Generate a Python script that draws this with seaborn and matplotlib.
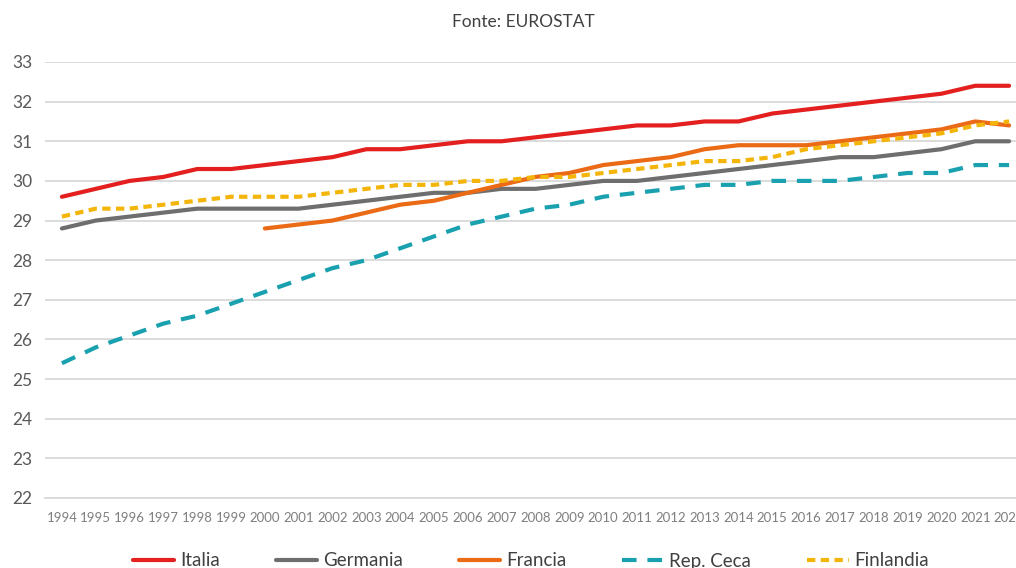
import pandas as pd
import numpy as np
import seaborn as sns
import matplotlib.pyplot as plt

years = list(range(1994, 2023))

italia = [29.6, 29.8, 30.0, 30.1, 30.3, 30.3, 30.4, 30.5, 30.6, 30.8,
          30.8, 30.9, 31.0, 31.0, 31.1, 31.2, 31.3, 31.4, 31.4, 31.5,
          31.5, 31.7, 31.8, 31.9, 32.0, 32.1, 32.2, 32.4, 32.4]
germania = [28.8, 29.0, 29.1, 29.2, 29.3, 29.3, 29.3, 29.3, 29.4, 29.5,
            29.6, 29.7, 29.7, 29.8, 29.8, 29.9, 30.0, 30.0, 30.1, 30.2,
            30.3, 30.4, 30.5, 30.6, 30.6, 30.7, 30.8, 31.0, 31.0]
francia = [None] * 6 + [28.8, 28.9, 29.0, 29.2, 29.4, 29.5, 29.7, 29.9,
                        30.1, 30.2, 30.4, 30.5, 30.6, 30.8, 30.9, 30.9,
                        30.9, 31.0, 31.1, 31.2, 31.3, 31.5, 31.4]
rep_ceca = [25.4, 25.8, 26.1, 26.4, 26.6, 26.9, 27.2, 27.5, 27.8, 28.0,
            28.3, 28.6, 28.9, 29.1, 29.3, 29.4, 29.6, 29.7, 29.8, 29.9,
            29.9, 30.0, 30.0, 30.0, 30.1, 30.2, 30.2, 30.4, 30.4]
finlandia = [29.1, 29.3, 29.3, 29.4, 29.5, 29.6, 29.6, 29.6, 29.7, 29.8,
             29.9, 29.9, 30.0, 30.0, 30.1, 30.1, 30.2, 30.3, 30.4, 30.5,
             30.5, 30.6, 30.8, 30.9, 31.0, 31.1, 31.2, 31.4, 31.5]

countries = ["Italia", "Germania", "Francia", "Rep. Ceca", "Finlandia"]
colors = ["#e3201f", "#6e6e6e", "#ea6a16", "#1aa1b0", "#f4b50a"]

wide = pd.DataFrame({
    "anno": years,
    "Italia": italia,
    "Germania": germania,
    "Francia": francia,
    "Rep. Ceca": rep_ceca,
    "Finlandia": finlandia,
})
df = wide.melt(id_vars="anno", var_name="paese", value_name="valore").dropna()

sns.set_style("white")
plt.rcParams["font.family"] = ["Lato", "DejaVu Sans"]

fig = plt.figure(figsize=(10.16, 5.68), dpi=100)
ax = fig.add_axes([45 / 1016, 1 - 498 / 568, 981 / 1016, 436 / 568])

sns.lineplot(
    data=df, x="anno", y="valore", hue="paese", style="paese",
    hue_order=countries, style_order=countries,
    palette=dict(zip(countries, colors)),
    dashes={"Italia": "", "Germania": "", "Francia": "",
            "Rep. Ceca": (3.5, 2.6), "Finlandia": (2.0, 1.3)},
    linewidth=3, ax=ax,
)

ax.set_xlim(1993.5, 2022.5)
ax.set_ylim(22, 33)
ax.set_yticks(range(22, 34))
ax.yaxis.grid(True, color="#d9d9d9", linewidth=1.3)
ax.set_axisbelow(True)
for s in ["top", "right", "left"]:
    ax.spines[s].set_visible(False)
ax.spines["bottom"].set_color("#d9d9d9")
ax.spines["bottom"].set_linewidth(1.3)

ax.set_xticks(years)
ax.set_xticklabels([str(y) for y in years], fontsize=9.5, color="#7f7f7f")
ax.set_xticks(np.arange(1993.5, 2023, 1), minor=True)
ax.tick_params(axis="x", which="major", length=0, pad=10)
ax.tick_params(axis="x", which="minor", length=19, width=1.0, color="#d9d9d9",
               direction="out")
ax.tick_params(axis="y", length=0, pad=9, labelsize=12.5, labelcolor="#595959")
ax.set_xlabel("")
ax.set_ylabel("")

fig.text(523 / 1016, 1 - 22 / 568, "Fonte: EUROSTAT", ha="center", va="center",
         fontsize=12.5, color="#404040")

leg = ax.legend(
    loc="center", bbox_to_anchor=((531 - 45) / 981, (498 - 561) / 436),
    ncol=5, frameon=False, fontsize=13.5, handlelength=2.2,
    handletextpad=0.3, columnspacing=3.0,
)
for t in leg.get_texts():
    t.set_color("#404040")

fig.savefig("out.png", dpi=100)
